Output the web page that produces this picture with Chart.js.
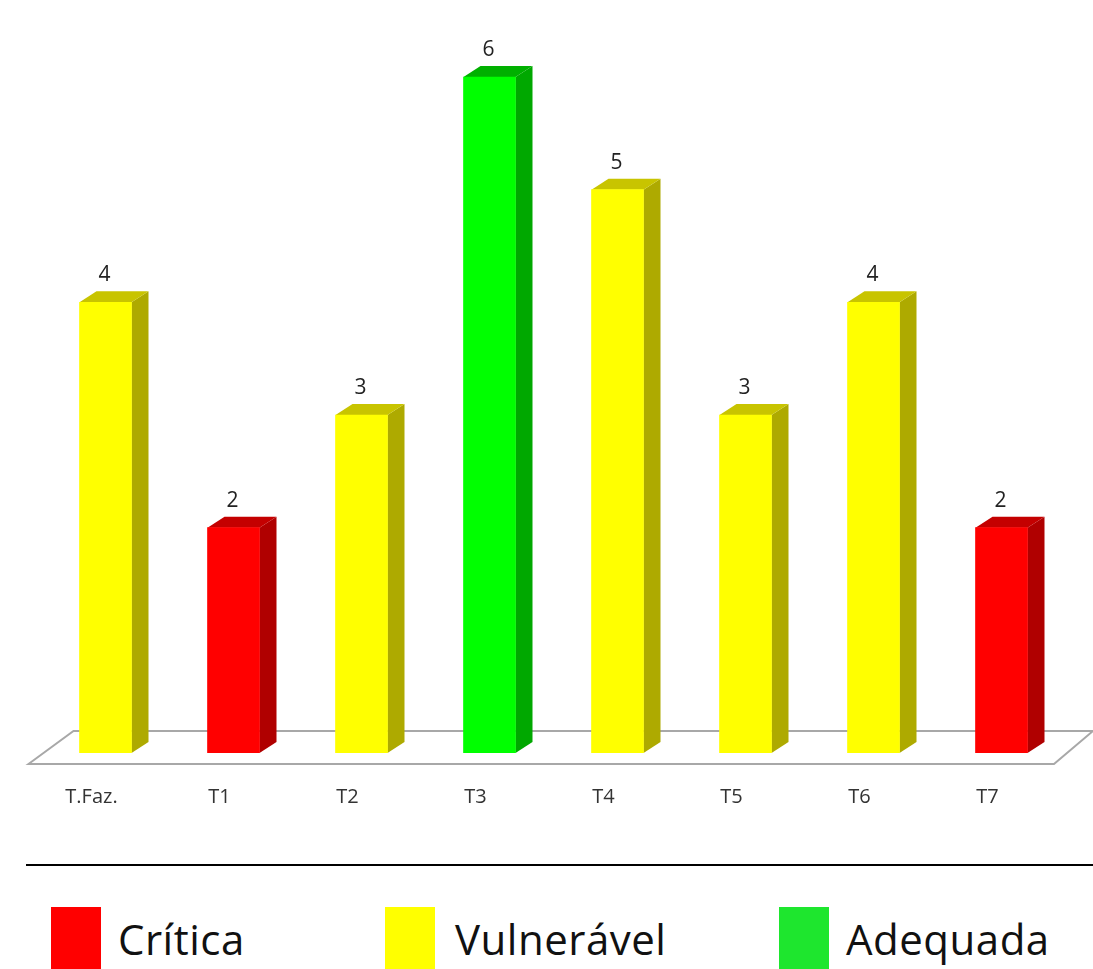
<!DOCTYPE html>
<html>
<head>
<meta charset="utf-8">
<title>Chart</title>
<script src="https://cdn.jsdelivr.net/npm/chart.js@4"></script>
<style>
  html, body { margin: 0; padding: 0; background: #fff; overflow: hidden; }
  #wrap { position: relative; width: 1093px; height: 969px; overflow: hidden; }
  #chart { position: absolute; left: 0; top: 0; }
  #rule { position: absolute; left: 26px; right: 0; top: 864px; height: 2px; background: #000; }
  .sw { position: absolute; top: 907px; width: 50px; height: 62px; }
  .lb { position: absolute; top: 909px; font: 42px "Open Sans", sans-serif; letter-spacing: 0.5px; line-height: 60px; color: #111; white-space: nowrap; }
</style>
</head>
<body>
<div id="wrap">
  <canvas id="chart" width="1093" height="850"></canvas>
  <div id="rule"></div>
  <div id="legend"></div>
</div>
<script>
const categories = ["T.Faz.", "T1", "T2", "T3", "T4", "T5", "T6", "T7"];
const values = [4, 2, 3, 6, 5, 3, 4, 2];
const status = ["Vulnerável", "Crítica", "Vulnerável", "Adequada", "Vulnerável", "Vulnerável", "Vulnerável", "Crítica"];

const legendNames = ["Crítica", "Vulnerável", "Adequada"];
const legendColors = ["#ff0000", "#ffff00", "#1ee62e"];
const legendBoxX = [51, 385, 779];
const legendTextX = [118, 455, 846];

const frontColors = { "Crítica": "#ff0000", "Vulnerável": "#ffff00", "Adequada": "#00ff00" };
const sideColors = { "Crítica": "#b00000", "Vulnerável": "#aeaa00", "Adequada": "#00a800" };
const topColors = { "Crítica": "#c40000", "Vulnerável": "#c8c400", "Adequada": "#00b000" };

const depthX = 17, depthY = 11;

// floor under the bars
const floorPlugin = {
    id: "floor",
    beforeDatasetsDraw(chart) {
        const ctx = chart.ctx, a = chart.chartArea;
        ctx.save();
        ctx.strokeStyle = "#a8a8a8";
        ctx.lineWidth = 2;
        ctx.beginPath();
        ctx.moveTo(a.left - 13, a.bottom + 11);
        ctx.lineTo(a.left + 32, a.bottom - 22);
        ctx.lineTo(a.right + 27.5, a.bottom - 22);
        ctx.lineTo(a.right - 11.5, a.bottom + 11);
        ctx.closePath();
        ctx.stroke();
        ctx.restore();
    }
};

// side and top faces, plus the value above each bar
const barFacesPlugin = {
    id: "barFaces",
    beforeDatasetDraw(chart) {
        const ctx = chart.ctx;
        chart.getDatasetMeta(0).data.forEach((bar, i) => {
            const left = bar.x - bar.width / 2, right = bar.x + bar.width / 2;
            ctx.fillStyle = sideColors[status[i]];
            ctx.beginPath();
            ctx.moveTo(right, bar.y);
            ctx.lineTo(right + depthX, bar.y - depthY);
            ctx.lineTo(right + depthX, bar.base - depthY);
            ctx.lineTo(right, bar.base);
            ctx.closePath();
            ctx.fill();
            ctx.fillStyle = topColors[status[i]];
            ctx.beginPath();
            ctx.moveTo(left, bar.y);
            ctx.lineTo(left + depthX, bar.y - depthY);
            ctx.lineTo(right + depthX, bar.y - depthY);
            ctx.lineTo(right, bar.y);
            ctx.closePath();
            ctx.fill();
        });
    },
    afterDatasetDraw(chart) {
        const ctx = chart.ctx;
        ctx.save();
        ctx.fillStyle = "#222";
        ctx.font = '21px "Open Sans", sans-serif';
        ctx.textAlign = "center";
        ctx.textBaseline = "middle";
        chart.getDatasetMeta(0).data.forEach((bar, i) => {
            ctx.fillText(values[i], bar.x - 1, bar.y - 27);
        });
        ctx.restore();
    }
};

new Chart(document.getElementById("chart"), {
    type: "bar",
    data: {
        labels: categories,
        datasets: [{
            data: values,
            backgroundColor: status.map(s => frontColors[s]),
            borderWidth: 0,
            barThickness: 52
        }]
    },
    options: {
        responsive: false,
        animation: false,
        layout: { padding: { left: 41.5, right: 27.5, top: 20.7, bottom: 0 } },
        plugins: { legend: { display: false }, tooltip: { enabled: false } },
        scales: {
            x: {
                grid: { display: false, drawTicks: false },
                border: { display: false },
                afterFit: s => { s.height = 97; },
                ticks: {
                    color: "#333",
                    font: { family: "Open Sans", size: 20 },
                    padding: 32,
                    labelOffset: -14,
                    maxRotation: 0,
                    autoSkip: false
                }
            },
            y: { display: false, min: 0, max: 6.5 }
        }
    },
    plugins: [floorPlugin, barFacesPlugin]
});

// legend row
const legend = document.getElementById("legend");
legendNames.forEach((name, i) => {
    legend.insertAdjacentHTML("beforeend",
        '<div class="sw" style="left:' + legendBoxX[i] + 'px;background:' + legendColors[i] + '"></div>' +
        '<div class="lb" style="left:' + legendTextX[i] + 'px">' + name + '</div>');
});
</script>
</body>
</html>
